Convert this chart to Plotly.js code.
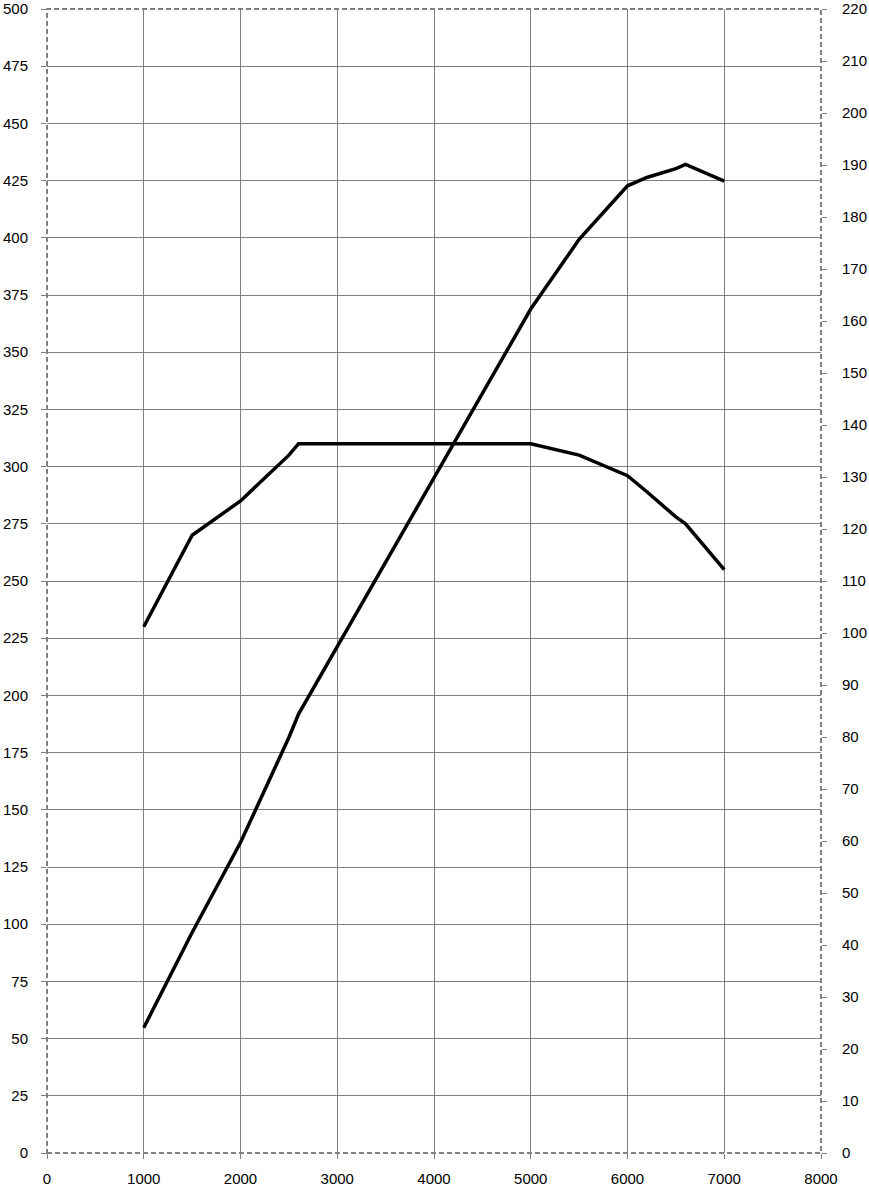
<!DOCTYPE html>
<html><head><meta charset="utf-8">
<script src="https://cdn.plot.ly/plotly-3.0.1.min.js"></script>
<style>html,body{margin:0;padding:0;background:#fff}#chart{width:869px;height:1186px}</style>
</head><body><div id="chart"></div>
<script>
const rpm    = [1000, 1500, 2000, 2500, 2600, 3000, 3500, 4000, 4500, 5000, 5500, 6000, 6200, 6500, 6600, 7000];
const torque = [230, 270, 285, 305, 310, 310, 310, 310, 310, 310, 305, 296, 289, 278, 275, 255];
const power  = [24.1, 42.4, 59.7, 79.9, 84.4, 97.4, 113.6, 129.9, 146.1, 162.3, 175.7, 186.0, 187.6, 189.3, 190.1, 186.9];

const grid = '#808080';
const font = {family: 'Liberation Sans, Arial, sans-serif', size: 15, color: '#000'};

const data = [
  {x: rpm, y: torque, type: 'scatter', mode: 'lines', line: {color: '#000', width: 3.5}, yaxis: 'y', hoverinfo: 'skip'},
  {x: rpm, y: power, type: 'scatter', mode: 'lines', line: {color: '#000', width: 3.5}, yaxis: 'y2', hoverinfo: 'skip'}
];

const layout = {
  width: 869, height: 1186,
  margin: {l: 47, r: 48, t: 9, b: 33, pad: 0},
  paper_bgcolor: '#fff', plot_bgcolor: '#fff',
  showlegend: false,
  font: font,
  xaxis: {range: [0, 8000], dtick: 1000, tick0: 0, showgrid: true, gridcolor: grid, gridwidth: 1,
          zeroline: false, showline: false, ticks: 'outside', ticklen: 5, tickcolor: grid,
          tickfont: font, ticklabelstandoff: 7, ticklabeloverflow: 'allow'},
  yaxis: {range: [0, 500], dtick: 25, tick0: 0, showgrid: true, gridcolor: grid, gridwidth: 1,
          zeroline: false, showline: false, ticks: 'outside', ticklen: 5, tickcolor: grid,
          tickfont: font, ticklabelstandoff: 10, ticklabeloverflow: 'allow'},
  yaxis2: {range: [0, 220], dtick: 10, tick0: 0, overlaying: 'y', side: 'right', showgrid: false,
           zeroline: false, showline: false, ticks: 'outside', ticklen: 5, tickcolor: grid,
           tickfont: font, ticklabelstandoff: 12, ticklabeloverflow: 'allow'},
  shapes: [
    {type: 'rect', xref: 'paper', yref: 'paper', x0: 0, x1: 1, y0: 0, y1: 1,
     line: {color: grid, width: 2, dash: '5px,3px'}, layer: 'above'}
  ]
};

Plotly.newPlot('chart', data, layout, {staticPlot: true, displayModeBar: false});
</script></body></html>
